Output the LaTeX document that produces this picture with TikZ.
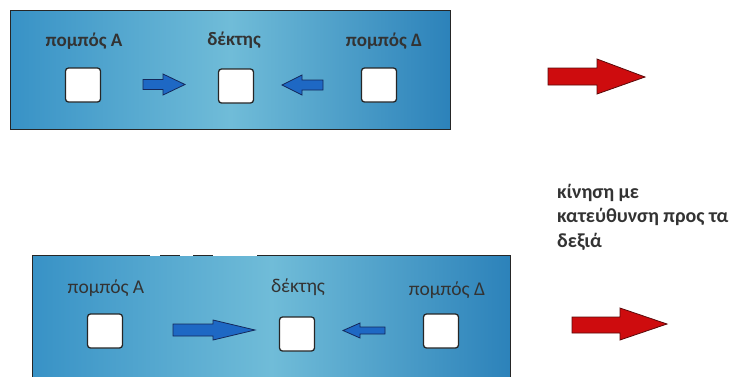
\documentclass[tikz,border=0pt]{standalone}
\usepackage{fontspec}
\setmainfont{Carlito}
\begin{document}
\begin{tikzpicture}[x=1pt,y=-1pt,
  panel/.style={draw=black!85, line width=1pt, inner sep=0pt, anchor=north west,
    left color=panelDark, right color=panelEdge, middle color=panelLight},
  cell/.style={draw=black!85, line width=1.3pt, fill=white, rounded corners=3pt,
    minimum width=35pt, minimum height=34pt, inner sep=0pt},
  lbl/.style={text=black!80, inner sep=0pt, anchor=base},
  toplbl/.style={lbl, font=\bfseries\fontsize{19}{24}\selectfont},
  lowlbl/.style={lbl, font=\fontsize{19.5}{24}\selectfont},
  bluearrow/.style={fill=arrowBlue, draw=arrowBlueDark, line width=0.8pt, line join=miter},
  redarrow/.style={fill=arrowRed, draw=arrowRedDark, line width=0.8pt, line join=miter},
  gap/.style={draw=white, line width=2pt}]
\definecolor{panelDark}{RGB}{56,146,198}
\definecolor{panelLight}{RGB}{112,188,216}
\definecolor{panelEdge}{RGB}{44,130,186}
\definecolor{arrowBlue}{RGB}{30,104,196}
\definecolor{arrowBlueDark}{RGB}{20,40,90}
\definecolor{arrowRed}{RGB}{206,12,14}
\definecolor{arrowRedDark}{RGB}{90,10,10}

\useasboundingbox (0,0) rectangle (739,376);
\clip (0,0) rectangle (739,376);

% ---- upper panel ----
\node[panel, minimum width=440pt, minimum height=119pt] (panelA) at (10,9.5) {};
\node[toplbl] (srcA1) at (84,46) {πομπός Α};
\node[toplbl] (rcv1)  at (234,45) {δέκτης};
\node[toplbl] (srcD1) at (384,46) {πομπός Δ};
\node[cell] (boxA1) at (83,85) {};
\node[cell] (boxR1) at (236,86) {};
\node[cell] (boxD1) at (379,85) {};
\draw[bluearrow] (143,79.5)--(163,79.5)--(163,74)--(185,84.5)--(163,95)--(163,89.5)--(143,89.5)--cycle;
\draw[bluearrow] (323,80)--(302,80)--(302,75)--(282,85)--(302,95)--(302,90)--(323,90)--cycle;
\draw[redarrow] (548,68)--(597,68)--(597,59)--(645,77)--(597,94)--(597,85)--(548,85)--cycle;

% ---- lower panel ----
\node[panel, minimum width=478pt, minimum height=122pt] (panelB) at (32,255) {};
\draw[gap] (150,255)--(160,255) (180,255)--(193,255) (213,255)--(257,255);
\node[lowlbl] (srcA2) at (106,293) {πομπός Α};
\node[lowlbl] (rcv2)  at (298,292) {δέκτης};
\node[lowlbl] (srcD2) at (447,295) {πομπός Δ};
\node[cell] (boxA2) at (105,331) {};
\node[cell] (boxR2) at (297,334) {};
\node[cell] (boxD2) at (441,331) {};
\draw[bluearrow] (173,324)--(213,324)--(213,320)--(255,330)--(213,340)--(213,336)--(173,336)--cycle;
\draw[bluearrow] (385,327)--(360,327)--(360,323)--(343,330.5)--(360,338)--(360,334)--(385,334)--cycle;
\draw[redarrow] (572,317)--(620,317)--(620,308)--(667,324)--(620,340)--(620,333)--(572,333)--cycle;

% ---- caption ----
\node[anchor=north west, align=left, inner sep=0pt, text=black!80,
  font=\bfseries\fontsize{20}{24.5}\selectfont] (caption) at (557,184)
  {κίνηση με\\κατεύθυνση προς τα\\δεξιά};
\end{tikzpicture}
\end{document}
